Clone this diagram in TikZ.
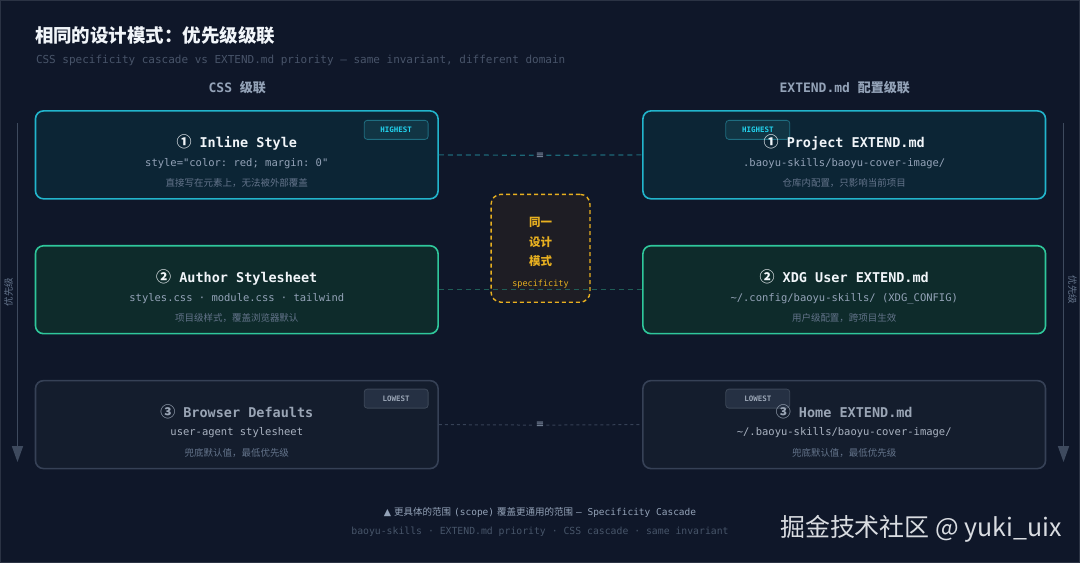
\documentclass[tikz,border=0pt]{standalone}
\usepackage{fontspec}
\setmainfont{DejaVu Sans}
\setmonofont{DejaVu Sans Mono}
\newfontfamily\cjk{Noto Sans CJK SC}
\newfontfamily\sym{DejaVu Sans}
\usetikzlibrary{arrows.meta}

\newcommand{\fs}[1]{\fontsize{#1}{#1}\selectfont}
\newcommand{\num}[1]{{\cjk\fontsize{15}{15}\selectfont #1}}

\tikzset{
  card/.style={rounded corners=8pt, line width=1.6pt, minimum width=403pt,
    minimum height=88pt, inner sep=0pt},
  cardTitle/.style={font=\ttfamily\bfseries\fs{13.5}, text=titleColour},
  cardPath/.style={font=\ttfamily\fs{10.5}, text=pathColour},
  cardNote/.style={font=\cjk\fs{9.5}, text=noteColour},
  badge/.style={rounded corners=3pt, line width=0.8pt, minimum width=64pt,
    minimum height=19pt, inner sep=0pt, font=\ttfamily\bfseries\fs{7.5}},
  eqmark/.style={font=\sym\fs{10}, text=pathColour, fill=bgColour, inner sep=2pt},
  prioArrow/.style={draw=arrowColour, line width=1.5pt, -{Triangle[width=11pt,length=16pt]}},
  prioLabel/.style={font=\cjk\fs{9.5}, text=noteColour}
}

\begin{document}
\begin{tikzpicture}[x=1pt,y=-1pt]
    \definecolor{bgColour}{HTML}{0F1729}
    \definecolor{frameColour}{HTML}{2B3344}
    \definecolor{titleColour}{HTML}{F1F5F9}
    \definecolor{subColour}{HTML}{485469}
    \definecolor{headColour}{HTML}{94A3B8}
    \definecolor{pathColour}{HTML}{94A3B8}
    \definecolor{noteColour}{HTML}{64748B}
    \definecolor{arrowColour}{HTML}{3E4A5E}
    \definecolor{topBorder}{HTML}{22B5CC}
    \definecolor{topFill}{HTML}{0C2535}
    \definecolor{midBorder}{HTML}{2FC79B}
    \definecolor{midFill}{HTML}{0E2B2B}
    \definecolor{lowBorder}{HTML}{364156}
    \definecolor{lowFill}{HTML}{141D2D}
    \definecolor{lowText}{HTML}{9AA5B5}
    \definecolor{hiBadgeFill}{HTML}{113544}
    \definecolor{hiBadgeDraw}{HTML}{1F6D80}
    \definecolor{hiBadgeText}{HTML}{22D3EE}
    \definecolor{loBadgeFill}{HTML}{253043}
    \definecolor{loBadgeDraw}{HTML}{3C4758}
    \definecolor{linkTop}{HTML}{1D6878}
    \definecolor{linkMid}{HTML}{1F5E57}
    \definecolor{linkLow}{HTML}{364156}
    \definecolor{goldColour}{HTML}{E8B020}
    \definecolor{goldFill}{HTML}{1E1D24}
    \definecolor{footColour}{HTML}{94A3B8}
    \definecolor{footDim}{HTML}{475569}
    \definecolor{wmColour}{HTML}{D9DCE1}

    % Background
    \fill[bgColour] (0,0) rectangle (1080,563);
    \draw[frameColour, line width=1pt] (0,0) rectangle (1080,563);
    \useasboundingbox (0,0) rectangle (1080,563);

    % Title and subtitle
    \node[anchor=west, text=titleColour, font=\cjk\bfseries\fs{18.5}] (title) at (31,35) {相同的设计模式：优先级级联};
    \node[anchor=west, text=subColour, font=\ttfamily\fs{11}] (subtitle) at (32,60) {CSS specificity cascade vs EXTEND.md priority — same invariant, different domain};

    % Column headers
    \node[text=headColour, font=\bfseries\fs{13}] (hCss) at (237,87) {\ttfamily CSS \cjk 级联};
    \node[text=headColour, font=\bfseries\fs{13}] (hExt) at (845,87) {\ttfamily EXTEND.md \cjk 配置级联};

    % Priority arrows
    \coordinate (lTop) at (17,123);
    \coordinate (lBot) at (17,462);
    \draw[prioArrow] (lTop) -- (lBot);
    \node[prioLabel, rotate=90] (lLab) at (8,292) {优先级};
    \coordinate (rTop) at (1064,123);
    \coordinate (rBot) at (1064,462);
    \draw[prioArrow] (rTop) -- (rBot);
    \node[prioLabel, rotate=-90] (rLab) at (1073,290) {优先级};

    % Cards: CSS column
    \node[card, draw=topBorder, fill=topFill] (inl) at (236.5,154.5) {};
    \node[card, draw=midBorder, fill=midFill] (aut) at (236.5,289.5) {};
    \node[card, draw=lowBorder, fill=lowFill] (brw) at (236.5,424.5) {};

    % Cards: EXTEND.md column
    \node[card, draw=topBorder, fill=topFill] (prj) at (844.5,154.5) {};
    \node[card, draw=midBorder, fill=midFill] (xdg) at (844.5,289.5) {};
    \node[card, draw=lowBorder, fill=lowFill] (hom) at (844.5,424.5) {};

    % Badges
    \node[badge, fill=hiBadgeFill, draw=hiBadgeDraw, text=hiBadgeText] (bInl) at (396,129.5) {HIGHEST};
    \node[badge, fill=hiBadgeFill, draw=hiBadgeDraw, text=hiBadgeText] (bPrj) at (758,129.5) {HIGHEST};
    \node[badge, fill=loBadgeFill, draw=loBadgeDraw, text=lowText] (bBrw) at (396,398.5) {LOWEST};
    \node[badge, fill=loBadgeFill, draw=loBadgeDraw, text=lowText] (bHom) at (758,398.5) {LOWEST};

    % Card texts: row 1
    \node[cardTitle] (tInl) at (236.5,142) {\num{①} Inline Style};
    \node[cardPath] (pInl) at (236.5,163) {style="color: red; margin: 0"};
    \node[cardNote] (nInl) at (236.5,183) {直接写在元素上，无法被外部覆盖};
    \node[cardTitle] (tPrj) at (844.5,142) {\num{①} Project EXTEND.md};
    \node[cardPath] (pPrj) at (844.5,163) {.baoyu-skills/baoyu-cover-image/};
    \node[cardNote] (nPrj) at (844.5,183) {仓库内配置，只影响当前项目};

    % Card texts: row 2
    \node[cardTitle] (tAut) at (236.5,277) {\num{②} Author Stylesheet};
    \node[cardPath] (pAut) at (236.5,298) {styles.css · module.css · tailwind};
    \node[cardNote] (nAut) at (236.5,318) {项目级样式，覆盖浏览器默认};
    \node[cardTitle] (tXdg) at (844.5,277) {\num{②} XDG User EXTEND.md};
    \node[cardPath] (pXdg) at (844.5,298) {\textasciitilde/.config/baoyu-skills/ (XDG\_CONFIG)};
    \node[cardNote] (nXdg) at (844.5,318) {用户级配置，跨项目生效};

    % Card texts: row 3
    \node[cardTitle, text=lowText] (tBrw) at (236.5,412) {\num{③} Browser Defaults};
    \node[cardPath, text=lowText!85!white] (pBrw) at (236.5,433) {user-agent stylesheet};
    \node[cardNote] (nBrw) at (236.5,453) {兜底默认值，最低优先级};
    \node[cardTitle, text=lowText] (tHom) at (844.5,412) {\num{③} Home EXTEND.md};
    \node[cardPath, text=lowText!85!white] (pHom) at (844.5,433) {\textasciitilde/.baoyu-skills/baoyu-cover-image/};
    \node[cardNote] (nHom) at (844.5,453) {兜底默认值，最低优先级};

    % Centre box
    \node[draw=goldColour, fill=goldFill, dashed, dash pattern=on 4pt off 3pt, line width=1.4pt,
          rounded corners=10pt, minimum width=99pt, minimum height=108pt] (same) at (540.5,248) {};
    \node[text=goldColour, font=\cjk\bfseries\fs{11.5}] (sA) at (540.5,222) {同一};
    \node[text=goldColour, font=\cjk\bfseries\fs{11.5}] (sB) at (540.5,242) {设计};
    \node[text=goldColour, font=\cjk\bfseries\fs{11.5}] (sC) at (540.5,261) {模式};
    \node[text=goldColour, font=\ttfamily\fs{8.5}] (sD) at (540.5,284) {specificity};

    % Links between the columns
    \node[eqmark] (eqTop) at (540,155) {≡};
    \node[eqmark] (eqLow) at (540,425) {≡};
    \draw[linkTop, line width=1.2pt, dash pattern=on 5pt off 4pt] (inl.east) -- (eqTop) -- (prj.west);
    \draw[linkMid, line width=1.2pt, dash pattern=on 5pt off 4pt] (aut.east) -- (xdg.west);
    \draw[linkLow, line width=1pt, dash pattern=on 3pt off 3pt] (brw.east) -- (eqLow) -- (hom.west);

    % Footer
    \node[text=footColour, font=\fs{9.5}] (foot) at (540,512)
        {{\sym ▲} {\cjk 更具体的范围} {\ttfamily (scope)} {\cjk 覆盖更通用的范围} {\ttfamily — Specificity Cascade}};
    \node[text=footDim, font=\ttfamily\fs{9.8}] (tags) at (540,532)
        {baoyu-skills · EXTEND.md priority · CSS cascade · same invariant};

    % Watermark
    \node[anchor=east, text=wmColour, font=\cjk\fs{25}] (wm) at (1066,529) {掘金技术社区 @ yuki\_uix};

\end{tikzpicture}
\end{document}
